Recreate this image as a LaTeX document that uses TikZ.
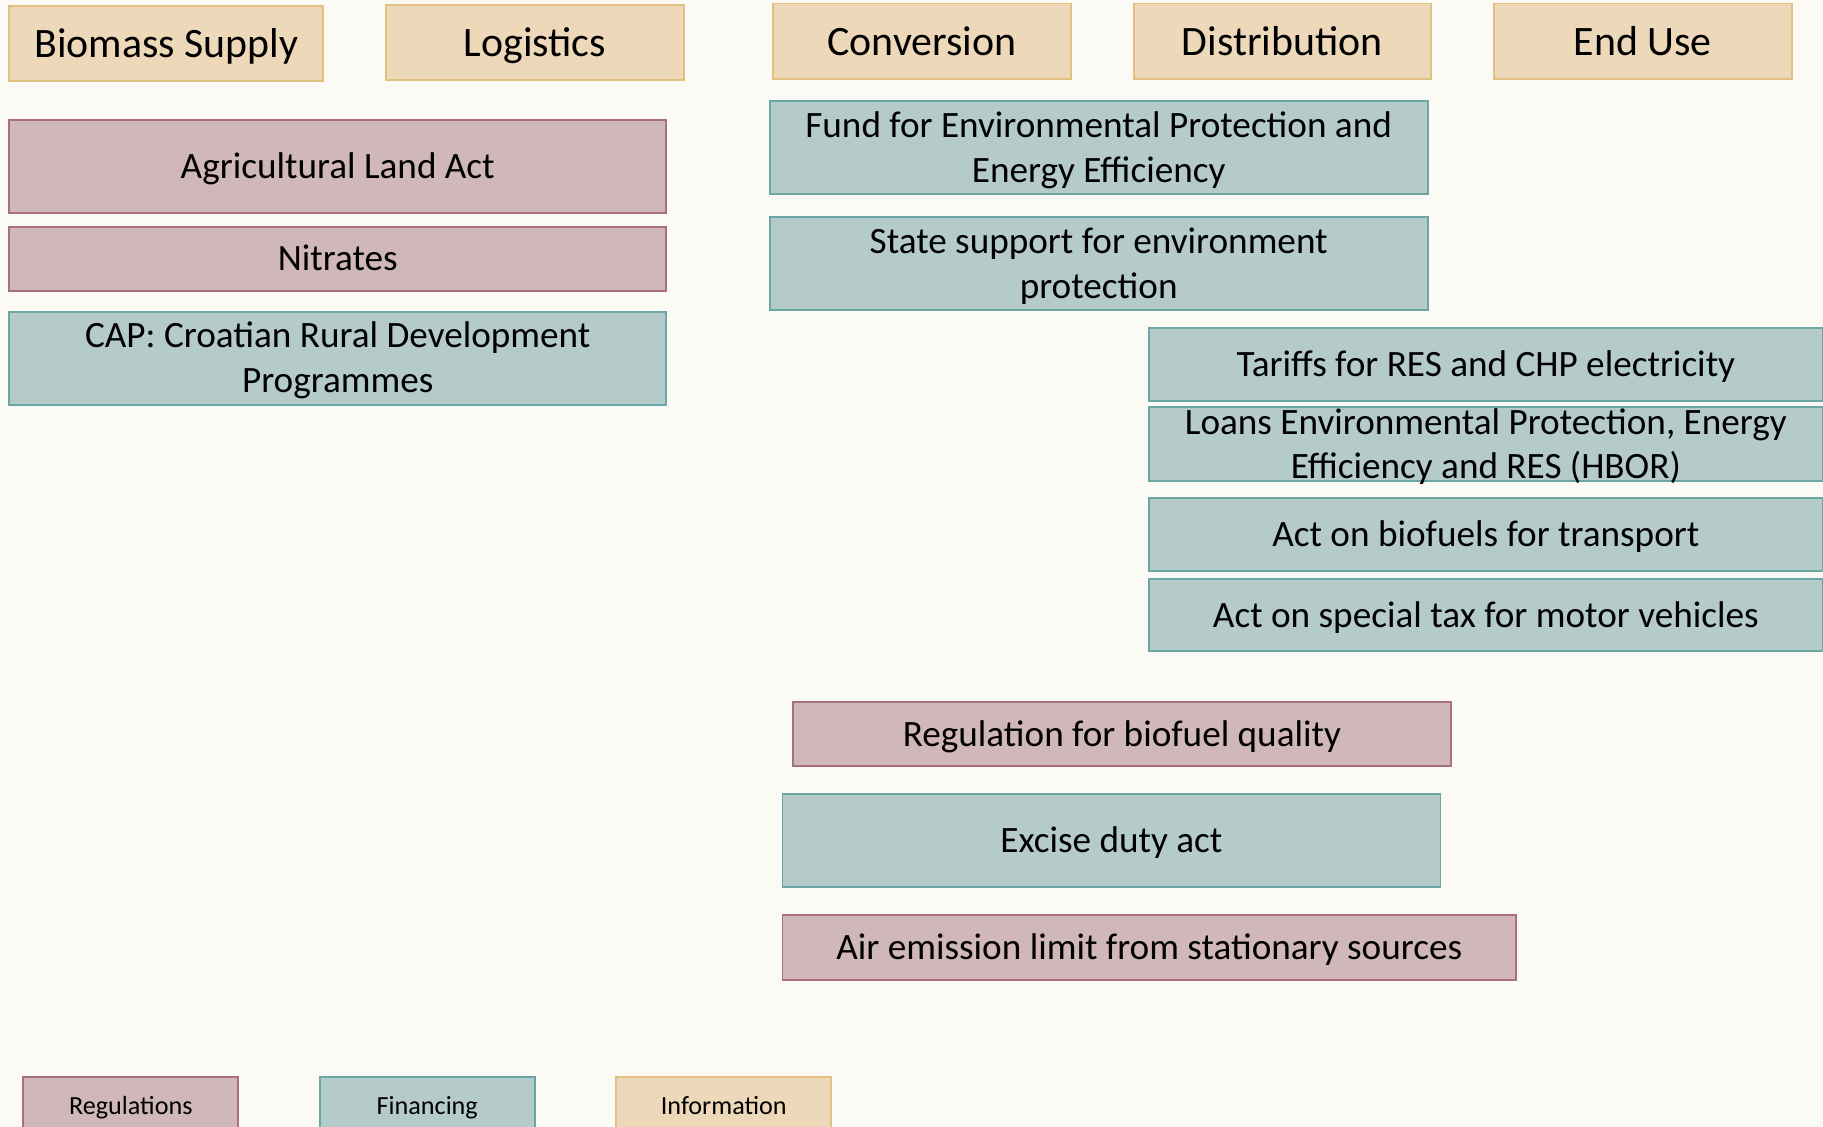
\documentclass[tikz,border=0pt]{standalone}
\usepackage{fontspec}
\setmainfont{Carlito}
\usetikzlibrary{positioning}
\definecolor{pagebg}{RGB}{252,250,245}
\definecolor{infofill}{RGB}{237,216,185}
\definecolor{infoline}{RGB}{226,192,128}
\definecolor{regfill}{RGB}{207,183,186}
\definecolor{regline}{RGB}{170,112,120}
\definecolor{finfill}{RGB}{180,203,201}
\definecolor{finline}{RGB}{106,166,163}
\newcommand{\topstrut}{\rule{0pt}{0.956em}}

\begin{document}
\begin{tikzpicture}[x=1pt, y=-1pt,
    lowtext/.style={execute at begin node={\topstrut}, execute at end node={\rule[-0.3em]{0pt}{0.3em}}},
    box/.style={draw, line width=1.6pt, align=center, inner sep=0pt, lowtext, font=\fontsize{32}{38.5}\selectfont},
    regbox/.style={box, fill=regfill, draw=regline},
    finbox/.style={box, fill=finfill, draw=finline},
    infobox/.style={box, fill=infofill, draw=infoline},
    stage/.style={infobox, minimum width=256, minimum height=65, font=\fontsize{36}{43}\selectfont},
    legend/.style={minimum width=185, minimum height=50, font=\fontsize{22.5}{27}\selectfont}]
        % Page
        \useasboundingbox (0,0) rectangle (1568,969);
        \fill[pagebg] (0,0) rectangle (1568,969);

        % Value chain stages
        \node[stage, minimum width=270] (supply) at (143,37.5) {Biomass Supply};
        \node[stage] (logistics) at (460,36.5) {Logistics};
        \node[stage] (conversion) at (793,35.5) {Conversion};
        \node[stage] (distribution) at (1103,35.5) {Distribution};
        \node[stage] (enduse) at (1413,35.5) {End Use};

        % Biomass supply and logistics
        \node[regbox, minimum width=565, minimum height=80] (landact) at (290.5,143) {Agricultural Land Act};
        \node[regbox, minimum width=565, minimum height=55] (nitrates) at (290.5,222.5) {Nitrates};
        \node[finbox, minimum width=565, minimum height=80] (cap) at (290.5,308) {\topstrut CAP: Croatian Rural Development\\Programmes};

        % Conversion
        \node[finbox, minimum width=566, minimum height=80] (fund) at (945,127) {\topstrut Fund for Environmental Protection and\\Energy Efficiency};
        \node[finbox, minimum width=566, minimum height=80] (statesupport) at (945,227) {\topstrut State support for environment\\protection};

        % Distribution and end use
        \node[finbox, minimum width=579, minimum height=63] (tariffs) at (1278,313.5) {Tariffs for RES and CHP electricity};
        \node[finbox, minimum width=579, minimum height=64,
            label={[align=center, lowtext, font=\fontsize{32}{38}\selectfont]center:\topstrut Loans Environmental Protection, Energy\\Efficiency and RES (HBOR)}] (loans) at (1278,382) {};
        \node[finbox, minimum width=579, minimum height=63] (biofuelact) at (1278,459.5) {Act on biofuels for transport};
        \node[finbox, minimum width=579, minimum height=62] (taxact) at (1278,529) {Act on special tax for motor vehicles};

        % Fuels and emissions
        \node[regbox, minimum width=566, minimum height=55] (fuelquality) at (965,631.5) {Regulation for biofuel quality};
        \node[finbox, minimum width=566, minimum height=80] (excise) at (956,723) {Excise duty act};
        \node[regbox, minimum width=631, minimum height=56] (emission) at (988.5,815) {Air emission limit from stationary sources};

        % Legend
        \node[regbox, legend] (legreg) at (112.5,951) {Regulations};
        \node[finbox, legend] (legfin) at (367.5,951) {Financing};
        \node[infobox, legend] (leginfo) at (622.5,951) {Information};
\end{tikzpicture}
\end{document}
